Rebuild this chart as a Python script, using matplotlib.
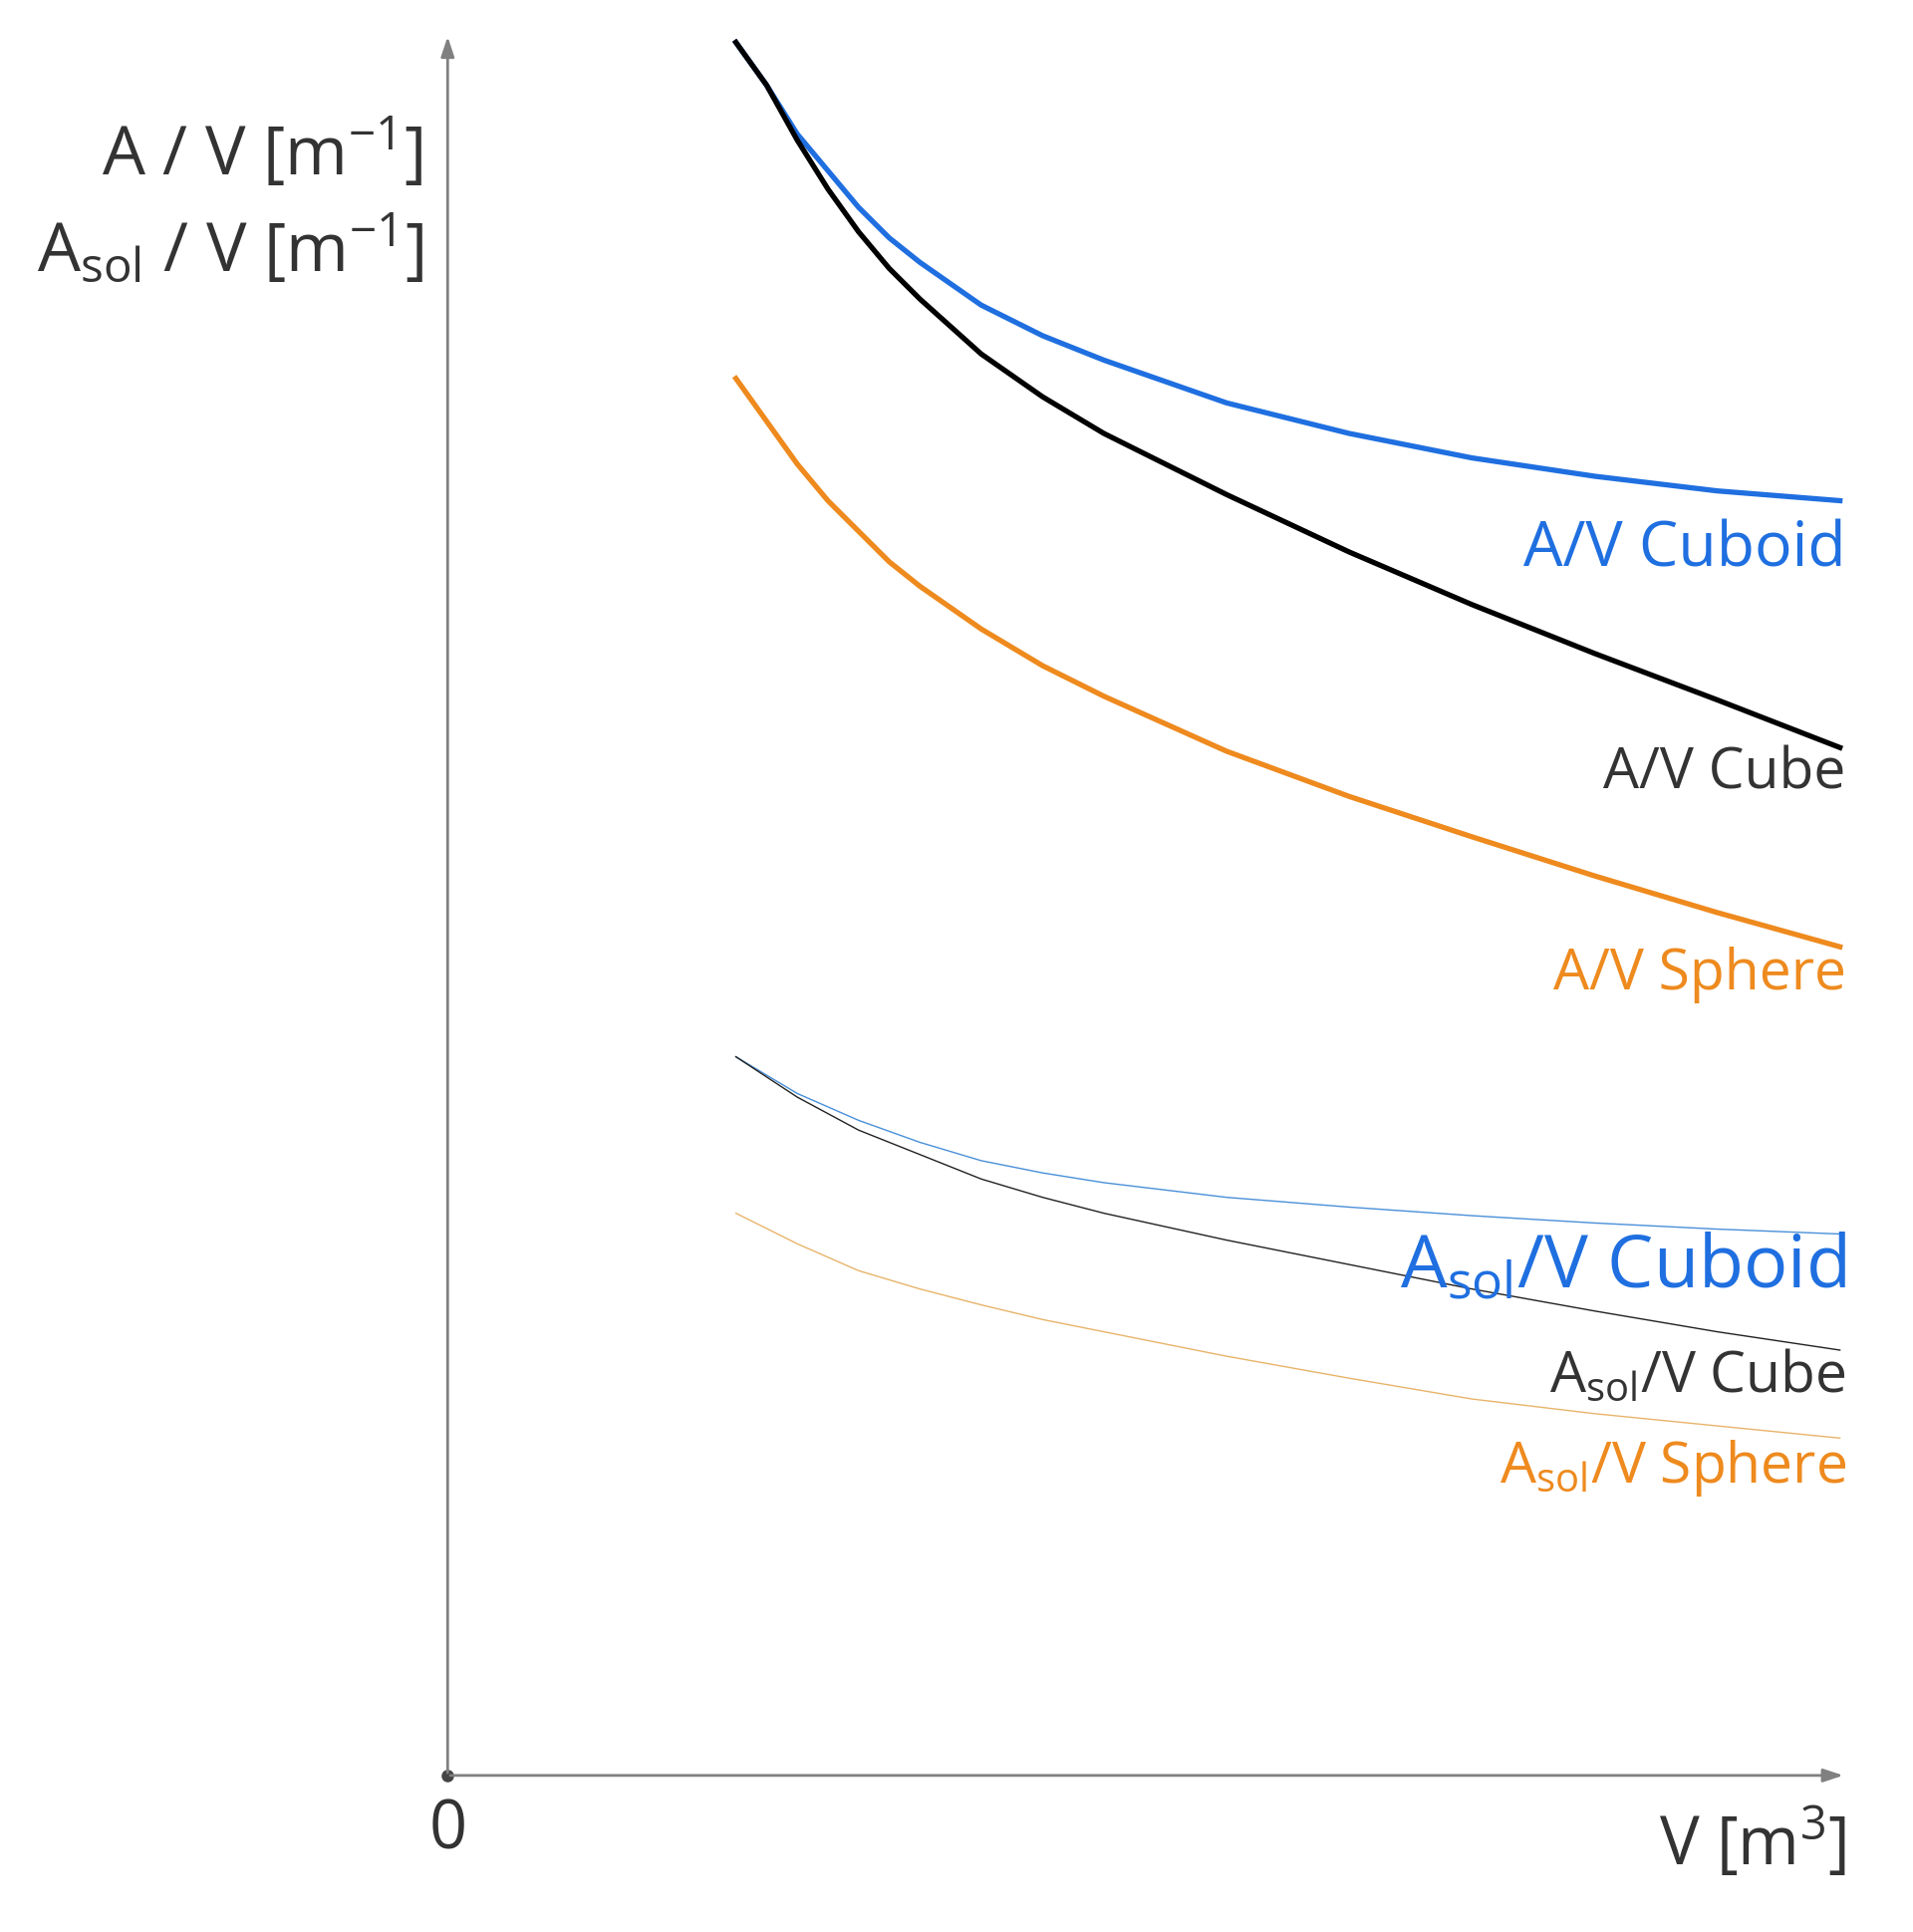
import matplotlib.pyplot as plt
import numpy as np

plt.rcParams['font.family'] = ['Open Sans', 'DejaVu Sans']
plt.rcParams['mathtext.fontset'] = 'custom'
plt.rcParams['mathtext.rm'] = 'Open Sans'
plt.rcParams['mathtext.it'] = 'Open Sans'

# values (arbitrary units, origin at axis corner)
x_top = [235, 260, 285, 310, 335, 360, 385, 435, 485, 535, 635, 735, 835, 935, 1035, 1135]
av_cuboid = [1418, 1383, 1343, 1313, 1283, 1258, 1238, 1203, 1178, 1158, 1123, 1098, 1078, 1063, 1051, 1043]
av_cube = [1418, 1383, 1338, 1298, 1263, 1233, 1208, 1163, 1128, 1098, 1048, 1001, 958, 918, 880, 841]
av_sphere = [1143, 1108, 1073, 1043, 1018, 993, 973, 938, 908, 883, 838, 801, 768, 736, 706, 678]

x_sol = [235, 285, 335, 385, 435, 485, 535, 635, 735, 835, 935, 1035, 1135]
asol_cuboid = [588, 558, 536, 518, 503, 493, 485, 473, 465, 458, 452, 447, 443]
asol_cube = [588, 555, 528, 508, 488, 473, 460, 438, 418, 398, 380, 363, 348]
asol_sphere = [460, 435, 413, 398, 385, 373, 363, 343, 325, 308, 296, 286, 276]

fig = plt.figure(figsize=(19.2, 19.4), dpi=100)
ax = fig.add_axes([0.234, 0.081, 0.731, 0.901])
ax.set_xlim(0, 1140)
ax.set_ylim(0, 1425)
ax.axis('off')

grey = '#808080'
ax.annotate('', xy=(1140, 0), xytext=(0, 0),
            arrowprops=dict(arrowstyle='-|>,head_length=1.2,head_width=0.4', color=grey, lw=2))
ax.annotate('', xy=(0, 1425), xytext=(0, 0),
            arrowprops=dict(arrowstyle='-|>,head_length=1.2,head_width=0.4', color=grey, lw=2))
ax.plot([0], [0], 'o', color='#444444', ms=8, clip_on=False)

blue = '#1f6fe0'
orange = '#ee8a1e'
ax.plot(x_top, av_cuboid, color=blue, lw=3.8, solid_joinstyle='round')
ax.plot(x_top, av_cube, color='black', lw=3.8, solid_joinstyle='round')
ax.plot(x_top, av_sphere, color=orange, lw=3.8, solid_joinstyle='round')
ax.plot(x_sol, asol_cuboid, color='#4a90d9', lw=1.0)
ax.plot(x_sol, asol_cube, color='#222222', lw=1.0)
ax.plot(x_sol, asol_sphere, color='#e8b46a', lw=1.0)

txt = '#333333'
ax.text(1140, 1003, 'A/V Cuboid', color=blue, fontsize=45, ha='right', va='center')
ax.text(1140, 820, 'A/V Cube', color=txt, fontsize=41, ha='right', va='center')
ax.text(1140, 656, 'A/V Sphere', color=orange, fontsize=41, ha='right', va='center')
ax.text(1140, 416, r'A$_{\mathrm{sol}}$/V Cuboid', color=blue, fontsize=53, ha='right', va='center')
ax.text(1140, 326, r'A$_{\mathrm{sol}}$/V Cube', color=txt, fontsize=41, ha='right', va='center')
ax.text(1140, 252, r'A$_{\mathrm{sol}}$/V Sphere', color=orange, fontsize=41, ha='right', va='center')

ax.text(-20, 1328, r'A / V [m$^{-1}$]', color=txt, fontsize=49, ha='right', va='center')
ax.text(-20, 1248, r'A$_{\mathrm{sol}}$ / V [m$^{-1}$]', color=txt, fontsize=49, ha='right', va='center')
ax.text(0, -45, '0', color=txt, fontsize=48, ha='center', va='center')
ax.text(1140, -55, r'V [m$^{3}$]', color=txt, fontsize=48, ha='right', va='center')

fig.savefig('out.png', dpi=100, facecolor='white')
